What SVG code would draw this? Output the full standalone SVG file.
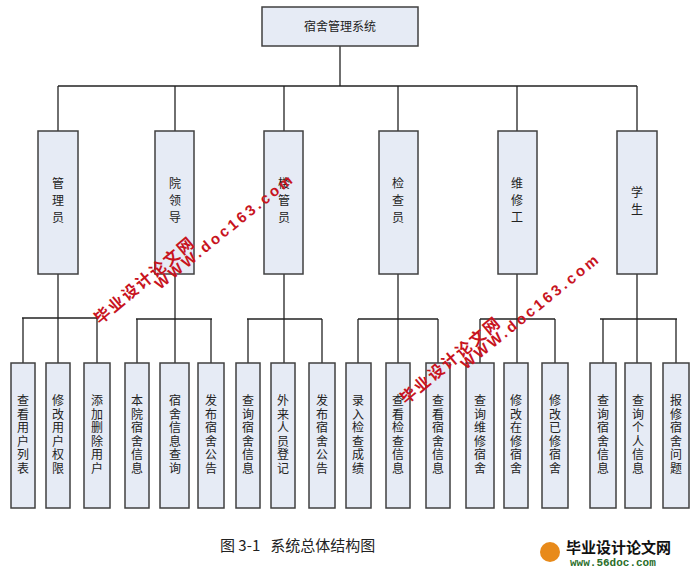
<svg xmlns="http://www.w3.org/2000/svg" width="694" height="570" viewBox="0 0 694 570">
<style>
.b{fill:#e6ebf5;stroke:#404040;stroke-width:1.5}
.t{font-family:"Noto Sans CJK SC","Liberation Serif",serif;font-size:12px;fill:#222;text-anchor:middle}
.v{writing-mode:vertical-rl;letter-spacing:1.5px}
.v2{writing-mode:vertical-rl;letter-spacing:5px}
.c line{stroke:#222;stroke-width:1.3}
.w{font-family:"Noto Sans CJK SC","Liberation Sans",sans-serif;font-weight:bold;fill:#c8141e}
.zh{font-size:16px;letter-spacing:2px}
.url{font-family:"Liberation Sans",sans-serif;font-size:15px;letter-spacing:3px}
</style>
<rect width="694" height="570" fill="#fff"/>
<g class="c" id="connectors">
<line x1="340" y1="46" x2="340" y2="86"/><line x1="58" y1="86" x2="637" y2="86"/>
<line x1="58" y1="86" x2="58" y2="131"/><line x1="175" y1="86" x2="175" y2="131"/><line x1="284" y1="86" x2="284" y2="131"/><line x1="398" y1="86" x2="398" y2="131"/><line x1="517" y1="86" x2="517" y2="131"/><line x1="637" y1="86" x2="637" y2="131"/>
<line x1="58" y1="274" x2="58" y2="363"/><line x1="22" y1="318" x2="98" y2="318"/><line x1="23" y1="318" x2="23" y2="363"/><line x1="97" y1="318" x2="97" y2="363"/>
<line x1="175" y1="274" x2="175" y2="363"/><line x1="136" y1="319" x2="212" y2="319"/><line x1="137" y1="319" x2="137" y2="363"/><line x1="211" y1="319" x2="211" y2="363"/>
<line x1="284" y1="274" x2="284" y2="363"/><line x1="247" y1="319" x2="322" y2="319"/><line x1="248" y1="319" x2="248" y2="363"/><line x1="322" y1="319" x2="322" y2="363"/>
<line x1="398" y1="274" x2="398" y2="363"/><line x1="358" y1="319" x2="438" y2="319"/><line x1="358" y1="319" x2="358" y2="363"/><line x1="438" y1="319" x2="438" y2="363"/>
<line x1="517" y1="274" x2="517" y2="363"/><line x1="480" y1="319" x2="555" y2="319"/><line x1="480" y1="319" x2="480" y2="363"/><line x1="555" y1="319" x2="555" y2="363"/>
<line x1="637" y1="274" x2="637" y2="363"/><line x1="600" y1="319" x2="677" y2="319"/><line x1="603" y1="319" x2="603" y2="363"/><line x1="676" y1="319" x2="676" y2="363"/>
</g>
<g id="root"><rect class="b" x="262" y="7" width="156" height="39"/><text class="t" x="340" y="31">宿舍管理系统</text></g>
<g id="n1"><rect class="b" x="38" y="131" width="40" height="143"/><text class="t v2" x="58" y="203">管理员</text></g>
<g id="n2"><rect class="b" x="155" y="131" width="39" height="143"/><text class="t v2" x="175" y="203">院领导</text></g>
<g id="n3"><rect class="b" x="264" y="131" width="39" height="143"/><text class="t v2" x="284" y="203">楼管员</text></g>
<g id="n4"><rect class="b" x="379" y="131" width="39" height="143"/><text class="t v2" x="398" y="203">检查员</text></g>
<g id="n5"><rect class="b" x="498" y="131" width="39" height="143"/><text class="t v2" x="517" y="203">维修工</text></g>
<g id="n6"><rect class="b" x="617" y="131" width="40" height="143"/><text class="t v2" x="637" y="203">学生</text></g>
<g id="l1"><rect class="b" x="11" y="363" width="24" height="145"/><text class="t v" x="23" y="435">查看用户列表</text></g>
<g id="l2"><rect class="b" x="46" y="363" width="24" height="145"/><text class="t v" x="58" y="435">修改用户权限</text></g>
<g id="l3"><rect class="b" x="84" y="363" width="26" height="145"/><text class="t v" x="97" y="435">添加删除用户</text></g>
<g id="l4"><rect class="b" x="125" y="363" width="24" height="145"/><text class="t v" x="137" y="435">本院宿舍信息</text></g>
<g id="l5"><rect class="b" x="160" y="363" width="29" height="145"/><text class="t v" x="175" y="435">宿舍信息查询</text></g>
<g id="l6"><rect class="b" x="198" y="363" width="26" height="145"/><text class="t v" x="211" y="435">发布宿舍公告</text></g>
<g id="l7"><rect class="b" x="236" y="363" width="24" height="145"/><text class="t v" x="248" y="435">查询宿舍信息</text></g>
<g id="l8"><rect class="b" x="271" y="363" width="24" height="145"/><text class="t v" x="283" y="435">外来人员登记</text></g>
<g id="l9"><rect class="b" x="309" y="363" width="26" height="145"/><text class="t v" x="322" y="435">发布宿舍公告</text></g>
<g id="l10"><rect class="b" x="346" y="363" width="25" height="145"/><text class="t v" x="358" y="435">录入检查成绩</text></g>
<g id="l11"><rect class="b" x="386" y="363" width="24" height="145"/><text class="t v" x="398" y="435">查看检查信息</text></g>
<g id="l12"><rect class="b" x="426" y="363" width="24" height="145"/><text class="t v" x="438" y="435">查看宿舍信息</text></g>
<g id="l13"><rect class="b" x="466" y="363" width="28" height="145"/><text class="t v" x="480" y="435">查询维修宿舍</text></g>
<g id="l14"><rect class="b" x="504" y="363" width="24" height="145"/><text class="t v" x="516" y="435">修改在修宿舍</text></g>
<g id="l15"><rect class="b" x="542" y="363" width="26" height="145"/><text class="t v" x="555" y="435">修改已修宿舍</text></g>
<g id="l16"><rect class="b" x="590" y="363" width="26" height="145"/><text class="t v" x="603" y="435">查询宿舍信息</text></g>
<g id="l17"><rect class="b" x="625" y="363" width="26" height="145"/><text class="t v" x="638" y="435">查询个人信息</text></g>
<g id="l18"><rect class="b" x="663" y="363" width="26" height="145"/><text class="t v" x="676" y="435">报修宿舍问题</text></g>
<text x="220" y="551" xml:space="preserve" style="font-family:'Noto Sans CJK SC','Liberation Serif',serif;font-size:15px;fill:#222">图 3-1   系统总体结构图</text>
<g class="w">
<text class="zh" transform="translate(100,325) rotate(-40)">毕业设计论文网</text>
<text class="url" transform="translate(160,290) rotate(-39)">WWW.doc163.com</text>
<text class="zh" transform="translate(406,405) rotate(-40)">毕业设计论文网</text>
<text class="url" transform="translate(466,370) rotate(-39)">WWW.doc163.com</text>
</g>
<circle cx="550" cy="552" r="10" fill="#e88a1a"/>
<text x="566" y="553" style="font-family:'Noto Sans CJK SC',sans-serif;font-weight:bold;font-size:15px;fill:#111">毕业设计论文网</text>
<text x="570" y="566" style="font-family:'Liberation Mono',monospace;font-weight:bold;font-size:11px;fill:#2a6e2a">www.56doc.com</text>
</svg>
